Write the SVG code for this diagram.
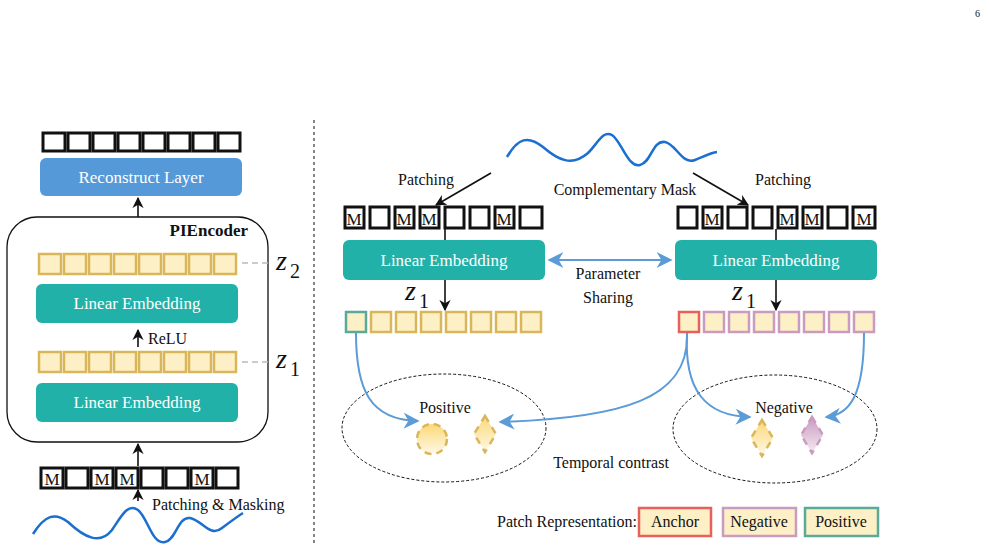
<svg xmlns="http://www.w3.org/2000/svg" width="989" height="551" viewBox="0 0 989 551">
<defs>
<style>
text{font-family:"Liberation Serif",serif;fill:#111}
.t{font-size:16px}
.w{fill:#fff;font-size:17px}
.k{fill:#fff;stroke:#111;stroke-width:3}
.g{fill:#fdefc6;stroke:#d9b65a;stroke-width:2.5}
.p{fill:#fdefc6;stroke:#c99bc0;stroke-width:2.5}
.le{fill:#22b1a8}
.bl{fill:none;stroke:#5a9bd8;stroke-width:2}
.ar{stroke:#111;stroke-width:1.6;fill:none}
.z{font-style:italic;font-size:28px}
.zs{font-size:20px}
</style>
<marker id="ab" viewBox="0 0 10 10" refX="9" refY="5" markerWidth="7" markerHeight="7" orient="auto-start-reverse"><path d="M0,0L10,5L0,10L3,5z" fill="#111"/></marker>
<marker id="ub" viewBox="0 0 10 10" refX="9" refY="5" markerWidth="8" markerHeight="8" orient="auto-start-reverse"><path d="M0,0L10,5L0,10L3,5z" fill="#5a9bd8"/></marker>
<linearGradient id="gy" x1="0" y1="0" x2="0" y2="1"><stop offset="0" stop-color="#fbd978"/><stop offset="1" stop-color="#fff8e6"/></linearGradient>
<linearGradient id="gp" x1="0" y1="0" x2="0" y2="1"><stop offset="0" stop-color="#c99bc0"/><stop offset="1" stop-color="#f6eaf3"/></linearGradient>
</defs>
<text x="980" y="17" style="font-size:10px" text-anchor="end">6</text>
<line x1="314" y1="120" x2="314" y2="546" stroke="#333" stroke-width="1.2" stroke-dasharray="3,3"/>

<g id="left">
<g id="out-row"><rect class="k" x="43" y="133" width="22" height="18"/><rect class="k" x="68" y="133" width="22" height="18"/><rect class="k" x="93" y="133" width="22" height="18"/><rect class="k" x="118" y="133" width="22" height="18"/><rect class="k" x="143" y="133" width="22" height="18"/><rect class="k" x="168" y="133" width="22" height="18"/><rect class="k" x="193" y="133" width="22" height="18"/><rect class="k" x="218" y="133" width="22" height="18"/></g>
<g id="reconstruct"><rect x="40" y="158" width="202" height="38" rx="6" fill="#5599d9"/><text class="w" x="141" y="183" text-anchor="middle">Reconstruct Layer</text></g>
<g id="piencoder"><rect x="7" y="217" width="261" height="225" rx="30" fill="#fff" stroke="#111" stroke-width="1.3"/><text x="248" y="236" text-anchor="end" style="font-size:17px;font-weight:bold">PIEncoder</text></g>
<g id="z2row"><rect class="g" x="39" y="254" width="22" height="20"/><rect class="g" x="64" y="254" width="22" height="20"/><rect class="g" x="89" y="254" width="22" height="20"/><rect class="g" x="114" y="254" width="22" height="20"/><rect class="g" x="139" y="254" width="22" height="20"/><rect class="g" x="164" y="254" width="22" height="20"/><rect class="g" x="189" y="254" width="22" height="20"/><rect class="g" x="214" y="254" width="22" height="20"/></g>
<g id="le2"><rect class="le" x="36" y="284" width="202" height="39" rx="6"/><text class="w" x="137" y="309" text-anchor="middle">Linear Embedding</text></g>
<g id="z1row"><rect class="g" x="39" y="352" width="22" height="20"/><rect class="g" x="64" y="352" width="22" height="20"/><rect class="g" x="89" y="352" width="22" height="20"/><rect class="g" x="114" y="352" width="22" height="20"/><rect class="g" x="139" y="352" width="22" height="20"/><rect class="g" x="164" y="352" width="22" height="20"/><rect class="g" x="189" y="352" width="22" height="20"/><rect class="g" x="214" y="352" width="22" height="20"/></g>
<g id="le1"><rect class="le" x="36" y="383" width="202" height="39" rx="6"/><text class="w" x="137" y="408" text-anchor="middle">Linear Embedding</text></g>
<g id="in-row" style="font-size:17px"><rect class="k" x="41" y="468" width="22" height="20"/><rect class="k" x="66" y="468" width="22" height="20"/><rect class="k" x="91" y="468" width="22" height="20"/><rect class="k" x="116" y="468" width="22" height="20"/><rect class="k" x="141" y="468" width="22" height="20"/><rect class="k" x="166" y="468" width="22" height="20"/><rect class="k" x="191" y="468" width="22" height="20"/><rect class="k" x="216" y="468" width="22" height="20"/>
<text x="52" y="485" text-anchor="middle">M</text><text x="102" y="485" text-anchor="middle">M</text><text x="127" y="485" text-anchor="middle">M</text><text x="202" y="485" text-anchor="middle">M</text></g>
<path id="wave-l" d="M33,534 C45,515 55,512 68,522 C85,538 100,545 112,530 C122,515 128,503 138,510 C148,518 152,545 165,542 C176,540 178,516 190,518 C202,520 210,538 222,528 C230,522 238,516 243,513" fill="none" stroke="#1a6fd0" stroke-width="2.5"/>
<text class="t" x="152" y="510">Patching &amp; Masking</text>
<text class="t" x="148" y="344">ReLU</text>
<g id="zl"><text class="z" x="276" y="270">z</text><text class="zs" x="290" y="278">2</text><text class="z" x="276" y="368">z</text><text class="zs" x="290" y="376">1</text></g>
</g>

<g id="right">
<path id="wave-r" d="M507,157 C518,138 528,135 543,147 C558,160 572,167 588,153 C598,143 603,130 612,135 C622,142 628,168 640,165 C652,162 652,140 665,142 C676,144 682,165 695,160 C703,157 710,153 717,152" fill="none" stroke="#1a6fd0" stroke-width="2.5"/>
<g id="row-l" style="font-size:17px"><rect class="k" x="345" y="207" width="19" height="21"/><rect class="k" x="370" y="207" width="19" height="21"/><rect class="k" x="395" y="207" width="19" height="21"/><rect class="k" x="420" y="207" width="19" height="21"/><rect class="k" x="445" y="207" width="19" height="21"/><rect class="k" x="470" y="207" width="19" height="21"/><rect class="k" x="495" y="207" width="19" height="21"/><rect class="k" x="520" y="207" width="22" height="21"/>
<text x="354" y="225" text-anchor="middle">M</text><text x="404" y="225" text-anchor="middle">M</text><text x="429" y="225" text-anchor="middle">M</text><text x="504" y="225" text-anchor="middle">M</text></g>
<g id="row-r" style="font-size:17px"><rect class="k" x="678" y="207" width="19" height="21"/><rect class="k" x="703" y="207" width="19" height="21"/><rect class="k" x="728" y="207" width="19" height="21"/><rect class="k" x="753" y="207" width="19" height="21"/><rect class="k" x="778" y="207" width="19" height="21"/><rect class="k" x="803" y="207" width="19" height="21"/><rect class="k" x="828" y="207" width="19" height="21"/><rect class="k" x="853" y="207" width="22" height="21"/>
<text x="712" y="225" text-anchor="middle">M</text><text x="787" y="225" text-anchor="middle">M</text><text x="812" y="225" text-anchor="middle">M</text><text x="864" y="225" text-anchor="middle">M</text></g>
<g id="le-l"><rect class="le" x="343" y="240" width="202" height="40" rx="6"/><text class="w" x="444" y="266" text-anchor="middle">Linear Embedding</text></g>
<g id="le-r"><rect class="le" x="675" y="240" width="202" height="40" rx="6"/><text class="w" x="776" y="266" text-anchor="middle">Linear Embedding</text></g>
<g id="emb-l"><rect class="g" x="346" y="312" width="20" height="20" style="stroke:#5aaa9a"/><rect class="g" x="371" y="312" width="20" height="20"/><rect class="g" x="396" y="312" width="20" height="20"/><rect class="g" x="421" y="312" width="20" height="20"/><rect class="g" x="446" y="312" width="20" height="20"/><rect class="g" x="471" y="312" width="20" height="20"/><rect class="g" x="496" y="312" width="20" height="20"/><rect class="g" x="521" y="312" width="20" height="20"/></g>
<g id="emb-r"><rect class="p" x="679" y="312" width="20" height="20" style="stroke:#e8605a"/><rect class="p" x="704" y="312" width="20" height="20"/><rect class="p" x="729" y="312" width="20" height="20"/><rect class="p" x="754" y="312" width="20" height="20"/><rect class="p" x="779" y="312" width="20" height="20"/><rect class="p" x="804" y="312" width="20" height="20"/><rect class="p" x="829" y="312" width="20" height="20"/><rect class="p" x="854" y="312" width="20" height="20"/></g>
<text class="t" x="426" y="185" text-anchor="middle">Patching</text>
<text class="t" x="783" y="185" text-anchor="middle">Patching</text>
<text class="t" x="625" y="195" text-anchor="middle">Complementary Mask</text>
<text class="t" x="608" y="279" text-anchor="middle">Parameter</text>
<text class="t" x="608" y="303" text-anchor="middle">Sharing</text>
<text class="z" x="405" y="300">z</text><text class="zs" x="419" y="308">1</text>
<text class="z" x="732" y="300">z</text><text class="zs" x="746" y="308">1</text>
<g id="contrast-l"><ellipse cx="444" cy="428" rx="102" ry="54" fill="none" stroke="#111" stroke-dasharray="3,2"/><text class="t" x="445" y="413" text-anchor="middle">Positive</text>
<circle cx="432" cy="439" r="15" fill="url(#gy)" stroke="#d9b65a" stroke-width="2.5" stroke-dasharray="7,5"/>
<path d="M485,416 L496,434 L485,452 L474,434Z" fill="url(#gy)" stroke="#d9b65a" stroke-width="2.5" stroke-dasharray="7,6"/></g>
<g id="contrast-r"><ellipse cx="775" cy="429" rx="102" ry="54" fill="none" stroke="#111" stroke-dasharray="3,2"/><text class="t" x="784" y="413" text-anchor="middle">Negative</text>
<path d="M762,420 L773,438 L762,456 L751,438Z" fill="url(#gy)" stroke="#d9b65a" stroke-width="2.5" stroke-dasharray="7,6"/>
<path d="M812,417 L823,435 L812,453 L801,435Z" fill="url(#gp)" stroke="#c99bc0" stroke-width="2.5" stroke-dasharray="7,6"/></g>
<text class="t" x="611" y="468" text-anchor="middle">Temporal contrast</text>
<g id="legend"><text class="t" x="637" y="527" text-anchor="end">Patch Representation:</text>
<rect x="639" y="508" width="72" height="28" fill="#fdefc6" stroke="#e8605a" stroke-width="2.5"/><text class="t" x="675" y="527" text-anchor="middle">Anchor</text>
<rect x="723" y="508" width="73" height="28" fill="#fdefc6" stroke="#c99bc0" stroke-width="2.5"/><text class="t" x="759" y="527" text-anchor="middle">Negative</text>
<rect x="805" y="508" width="73" height="28" fill="#fdefc6" stroke="#5aaa9a" stroke-width="2.5"/><text class="t" x="841" y="527" text-anchor="middle">Positive</text></g>
</g>

<g id="connectors">
<line class="ar" x1="138" y1="217" x2="138" y2="198" marker-end="url(#ab)"/>
<line class="ar" x1="138" y1="347" x2="138" y2="330" marker-end="url(#ab)"/>
<line class="ar" x1="138" y1="466" x2="138" y2="444" marker-end="url(#ab)"/>
<line class="ar" x1="138" y1="501" x2="138" y2="490" marker-end="url(#ab)"/>
<line x1="242" y1="263" x2="272" y2="263" stroke="#bbb" stroke-width="1.5" stroke-dasharray="6,4"/>
<line x1="242" y1="362" x2="272" y2="362" stroke="#bbb" stroke-width="1.5" stroke-dasharray="6,4"/>
<line class="ar" x1="491" y1="173" x2="436" y2="205" marker-end="url(#ab)"/>
<line class="ar" x1="693" y1="173" x2="748" y2="205" marker-end="url(#ab)"/>
<line class="ar" x1="445" y1="229" x2="445" y2="240"/>
<line class="ar" x1="776" y1="229" x2="776" y2="240"/>
<line class="ar" x1="445" y1="280" x2="445" y2="310" marker-end="url(#ab)"/>
<line class="ar" x1="776" y1="280" x2="776" y2="310" marker-end="url(#ab)"/>
<line class="bl" x1="549" y1="260" x2="671" y2="260" marker-start="url(#ub)" marker-end="url(#ub)"/>
<path class="bl" d="M356,333 C356,390 370,420 418,421" marker-end="url(#ub)"/>
<path class="bl" d="M687,333 C690,400 620,418 500,422" marker-end="url(#ub)"/>
<path class="bl" d="M687,333 C684,390 705,416 750,417" marker-end="url(#ub)"/>
<path class="bl" d="M864,333 C864,395 850,415 826,417" marker-end="url(#ub)"/>
</g>
</svg>
